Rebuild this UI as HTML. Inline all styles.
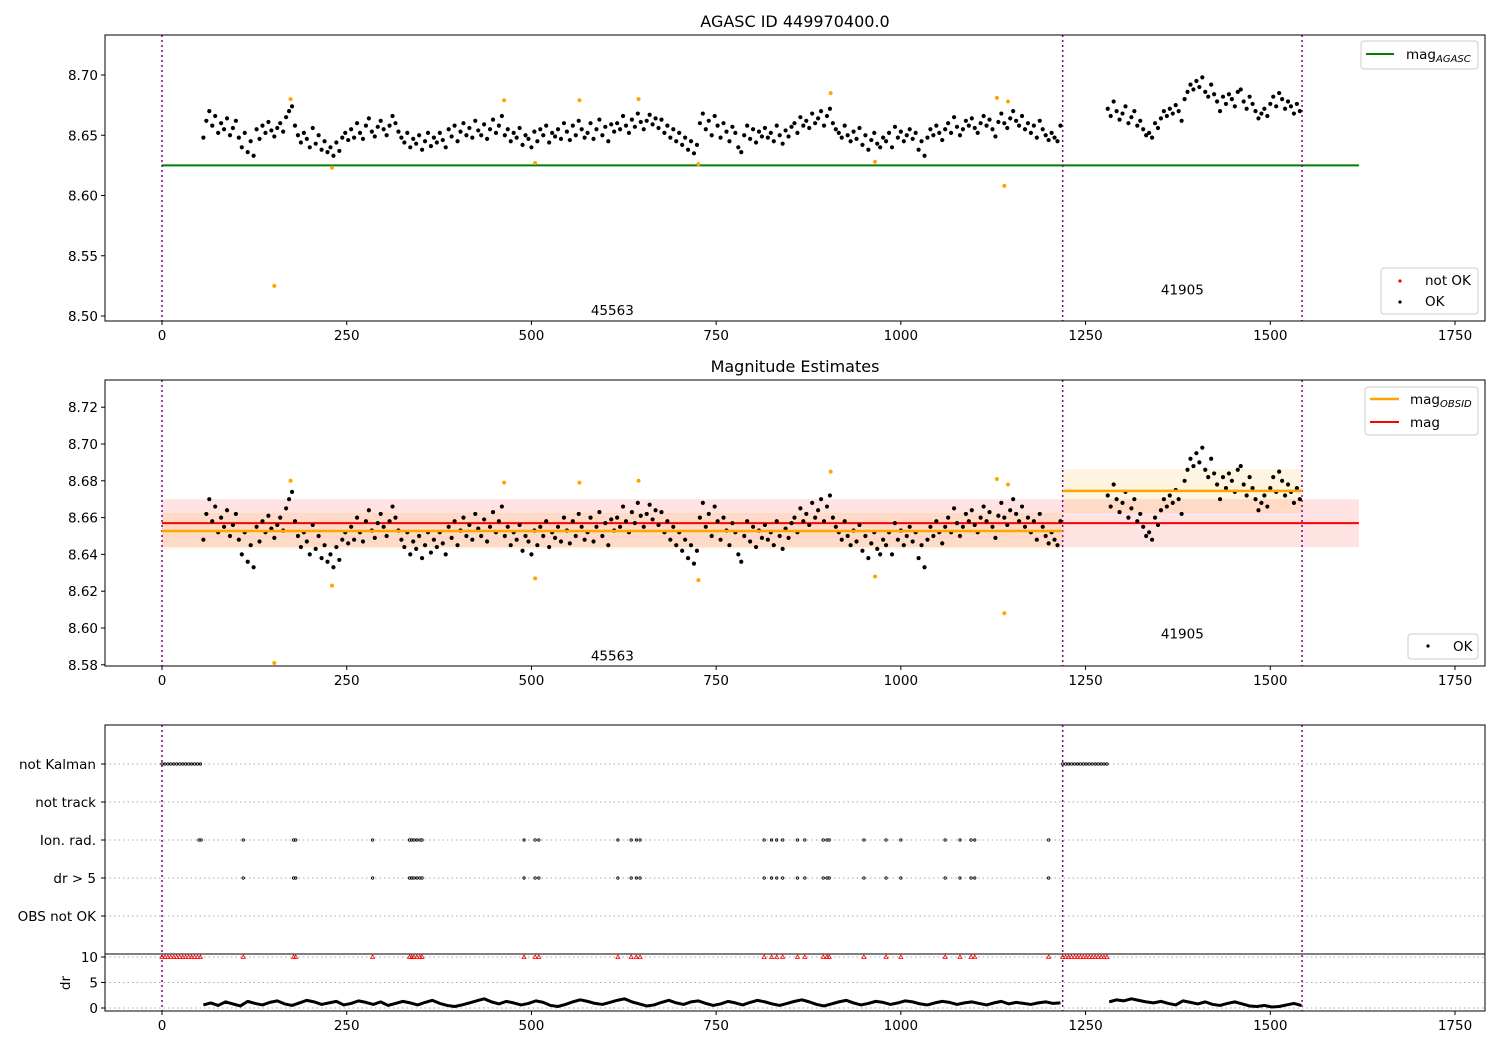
<!DOCTYPE html>
<html><head><meta charset="utf-8"><style>
body{margin:0;background:#fff}
svg{display:block;font-family:"DejaVu Sans","Liberation Sans",sans-serif}
</style></head><body>
<svg id="chart" width="1500" height="1050" viewBox="0 0 1500 1050" xmlns="http://www.w3.org/2000/svg"></svg>
<script>
// ---- data ----
const obs1Start = 56, obs1Step = 4;
const obs1MagMilli = [48,62,70,58,66,52,60,55,64,50, 56,62,48,40,52,36,45,33,55,47, 58,52,61,54,49,56,60,53,65,70,
 74,58,50,44,52,47,40,56,43,50, 38,45,36,40,33,44,37,48,52,46, 55,48,60,52,47,58,64,53,49,57,
 62,55,50,58,66,60,53,48,44,52, 40,47,43,50,38,45,52,41,48,44, 52,46,40,55,49,58,45,53,60,50,
 56,48,62,54,50,59,47,55,63,52, 58,66,50,55,45,52,48,56,42,50, 47,40,53,45,55,50,58,44,52,49,
 55,47,60,53,46,58,50,62,55,48, 52,60,47,55,63,50,57,45,59,53, 60,55,66,58,52,63,57,68,61,55,
 62,67,59,64,56,63,52,58,48,55, 45,52,42,48,38,45,35,42,60,68, 55,62,50,66,58,48,60,53,45,57,
 52,40,36,50,58,47,55,44,53,49, 56,48,52,45,58,50,43,54,49,57, 60,52,65,58,62,56,68,60,64,70,
 58,66,72,60,55,52,48,58,50,45, 53,47,56,42,50,38,46,52,43,40, 48,45,52,40,57,48,53,45,50,55,
 47,52,38,45,33,48,55,50,58,52, 46,55,60,52,65,57,50,55,62,58, 64,56,52,60,66,58,63,55,49,61,
 68,60,56,64,70,62,58,66,55,60, 52,58,48,62,55,50,46,52,48,45, 58];
const obs2Start = 1280, obs2Step = 4;
const obs2MagMilli = [72,66,78,70,63,68,74,60,65,70, 58,62,55,50,52,48,60,56,64,70, 66,72,68,75,70,62,80,86,92,88,
 95,90,98,86,82,92,84,78,70,82, 76,84,80,74,86,88,78,72,82,76, 70,64,68,72,66,76,82,74,85,80, 72,78,74,68,76,70];
const flaggedTimes = [174,230,152,463,505,565,645,726,905,965,1130,1140,1145];
const flaggedMags  = [8.680,8.623,8.525,8.679,8.627,8.679,8.680,8.626,8.685,8.628,8.681,8.608,8.678];
const magAgasc = 8.625;
const magAll = 8.657, magAllLo = 8.644, magAllHi = 8.670;
const obsidStarts = [0,1219], obsidEnds = [1219,1543];
const obsidMag = [8.6527,8.6745], obsidLo = [8.643,8.6625], obsidHi = [8.6625,8.6864];
const obsidLabels = ["45563","41905"];
const obsidLabelMag1 = [8.505,8.522], obsidLabelMag2 = [8.585,8.597];
const kalmanRuns = [[0,55],[1219,1280]];
const ionRadTimes = [50,53,110,178,181,285,335,338,341,345,349,352,490,505,510,617,635,642,647,815,825,832,840,860,870,895,900,903,950,980,1000,1060,1080,1095,1100,1200];
const dr5Times = [110,178,181,285,335,338,341,345,349,352,490,505,510,617,635,642,647,815,825,832,840,860,870,895,900,903,950,980,1000,1060,1080,1095,1100,1200];
const drStart1 = 56, drStart2 = 1282, drStep = 10;
const dr1 = [0.6,1.0,0.5,1.2,0.8,0.4,1.3,0.9,0.6,1.1, 1.4,0.8,0.5,1.0,1.5,1.2,0.7,1.0,1.3,0.6, 0.9,1.4,1.1,0.7,1.2,0.5,0.9,1.3,1.0,0.6,
 1.1,1.5,0.9,0.5,0.3,0.6,1.0,1.4,1.8,1.2, 0.8,1.3,1.0,0.6,0.9,1.4,1.1,0.5,0.3,0.7, 1.2,1.6,1.3,0.9,0.7,1.1,1.5,1.8,1.2,0.8,
 0.4,0.6,1.1,1.5,1.0,0.7,1.2,1.4,0.9,0.5, 0.8,1.3,1.0,0.6,1.1,1.5,1.2,0.8,0.5,0.9, 1.3,1.6,1.2,0.7,0.4,0.8,1.2,1.5,1.0,0.6,
 0.9,1.3,1.1,0.7,1.0,1.4,1.2,0.8,0.6,1.0, 1.3,1.1,0.7,1.0,1.2,0.9,0.6,1.0,1.3,0.8, 1.1,0.9,0.7,1.0,1.2,0.9,1.0];
const dr2 = [1.2,1.6,1.4,1.8,1.5,1.2,1.0,1.3,0.9,0.6, 1.4,1.1,0.8,1.2,0.7,0.5,0.9,1.2,0.8,0.4, 0.3,0.5,0.2,0.3,0.6,0.9,0.5];
const xTicks = [0,250,500,750,1000,1250,1500,1750];
const p1Ticks = [8.50,8.55,8.60,8.65,8.70];
const p2Ticks = [8.58,8.60,8.62,8.64,8.66,8.68,8.70,8.72];
const catLabels = ["not Kalman","not track","Ion. rad.","dr > 5","OBS not OK"];
const drTicks = [0,5,10];

// ---- axes ----
const NS="http://www.w3.org/2000/svg";
const svg=document.getElementById('chart');
function el(tag,attrs,parent){const e=document.createElementNS(NS,tag);for(const k in attrs)e.setAttribute(k,attrs[k]);(parent||svg).appendChild(e);return e;}
const X0=162, XS=(1455-162)/1750;
const xp=t=>X0+t*XS;
const y1=v=>75+(8.70-v)*1205;
const y2=v=>444+(8.70-v)*1840;
const ycat=i=>764+i*38;
const ydr=v=>1008-v*5.1;
const AX={l:105,r:1485};
const FS=13.5;

function frame(top,bot,name){
  const r=el('rect',{x:AX.l,y:top,width:AX.r-AX.l,height:bot-top,fill:'none',stroke:'#000','stroke-width':1});
  
  
}
function xAxis(bot,name){
  const g=el('g',{});
  
  
  xTicks.forEach(t=>{
    el('line',{x1:xp(t),x2:xp(t),y1:bot,y2:bot+4,stroke:'#000'},g);
    const tx=el('text',{x:xp(t),y:bot+19,'font-size':FS,'text-anchor':'middle'},g);tx.textContent=t;
  });
}
function yAxis(ticks,yf,fmt,name){
  const g=el('g',{});
  
  
  ticks.forEach(v=>{
    el('line',{x1:AX.l-4,x2:AX.l,y1:yf(v),y2:yf(v),stroke:'#000'},g);
    const tx=el('text',{x:AX.l-7,y:yf(v)+5,'font-size':FS,'text-anchor':'end'},g);tx.textContent=fmt(v);
  });
}
function vlines(top,bot,name){
  [0,1219,1543].forEach(t=>{
    const l=el('line',{x1:xp(t),x2:xp(t),y1:top,y2:bot,stroke:'purple','stroke-width':1.5,'stroke-dasharray':'2,3'});
    
    
  });
}
function dots(yf,r,fill,name){
  const g=el('g',{fill:fill});
  
  
  obs1MagMilli.forEach((m,i)=>el('circle',{cx:xp(obs1Start+i*obs1Step),cy:yf(8.6+m/1000),r:r},g));
  obs2MagMilli.forEach((m,i)=>el('circle',{cx:xp(obs2Start+i*obs2Step),cy:yf(8.6+m/1000),r:r},g));
}
function title(txt,y,name){
  const t=el('text',{x:795,y:y,'font-size':16,'text-anchor':'middle'});t.textContent=txt;
  
  
}

// ===== Panel 1 =====
title('AGASC ID 449970400.0',27,'top-title');
let cp=el('clipPath',{id:'c1'});el('rect',{x:AX.l,y:35,width:1380,height:286},cp);
let cp2=el('clipPath',{id:'c2'});el('rect',{x:AX.l,y:380,width:1380,height:286},cp2);
let l=el('line',{x1:xp(0),x2:xp(1620),y1:y1(magAgasc),y2:y1(magAgasc),stroke:'green','stroke-width':2});


vlines(35,321,'obsid-boundary');
dots(y1,2.1,'#000','ok-points-top');
let fg=el('g',{fill:'orange','clip-path':'url(#c1)'});


flaggedTimes.forEach((t,i)=>el('circle',{cx:xp(t),cy:y1(flaggedMags[i]),r:2},fg));
obsidLabels.forEach((s,i)=>{const t=el('text',{x:xp((obsidStarts[i]+obsidEnds[i])/2),y:y1(obsidLabelMag1[i])+5,'font-size':FS,'text-anchor':'middle'});t.textContent=s;
  
  });
frame(35,321,'top-axes');
xAxis(321,'top-x-axis');
yAxis(p1Ticks,y1,v=>v.toFixed(2),'top-y-axis');
// legends
let lg=el('g',{});


el('rect',{x:1361,y:41,width:117,height:28,rx:3,fill:'#fff',stroke:'#ccc'},lg);
el('line',{x1:1366,x2:1394,y1:54,y2:54,stroke:'green','stroke-width':2},lg);
let t=el('text',{x:1406,y:59,'font-size':FS},lg);t.innerHTML='mag<tspan font-size="10" font-style="italic" dy="3">AGASC</tspan>';
lg=el('g',{});


el('rect',{x:1381,y:268,width:97,height:46,rx:3,fill:'#fff',stroke:'#ccc'},lg);
el('circle',{cx:1400,cy:281,r:1.6,fill:'red'},lg);
el('circle',{cx:1400,cy:302,r:1.6,fill:'#000'},lg);
t=el('text',{x:1425,y:285,'font-size':FS},lg);t.textContent='not OK';
t=el('text',{x:1425,y:306,'font-size':FS},lg);t.textContent='OK';

// ===== Panel 2 =====
title('Magnitude Estimates',372,'middle-title');
let b=el('rect',{x:xp(0),y:y2(magAllHi),width:xp(1620)-xp(0),height:y2(magAllLo)-y2(magAllHi),fill:'red','fill-opacity':0.11});


obsidStarts.forEach((s,i)=>{
  const r=el('rect',{x:xp(s),y:y2(obsidHi[i]),width:xp(obsidEnds[i])-xp(s),height:y2(obsidLo[i])-y2(obsidHi[i]),fill:'orange','fill-opacity':0.12});
  
  
});
l=el('line',{x1:xp(0),x2:xp(1620),y1:y2(magAll),y2:y2(magAll),stroke:'red','stroke-width':2});


vlines(380,666,'obsid-boundary');
dots(y2,2.1,'#000','ok-points-middle');
obsidStarts.forEach((s,i)=>{
  const m=el('line',{x1:xp(s),x2:xp(obsidEnds[i]),y1:y2(obsidMag[i]),y2:y2(obsidMag[i]),stroke:'orange','stroke-width':2.5});
  
  
});
fg=el('g',{fill:'orange','clip-path':'url(#c2)'});


flaggedTimes.forEach((tt,i)=>el('circle',{cx:xp(tt),cy:Math.min(y2(flaggedMags[i]),663),r:2},fg));
obsidLabels.forEach((s,i)=>{const tx=el('text',{x:xp((obsidStarts[i]+obsidEnds[i])/2),y:y2(obsidLabelMag2[i])+5,'font-size':FS,'text-anchor':'middle'});tx.textContent=s;
  
  });
frame(380,666,'middle-axes');
xAxis(666,'middle-x-axis');
yAxis(p2Ticks,y2,v=>v.toFixed(2),'middle-y-axis');
lg=el('g',{});


el('rect',{x:1365,y:387,width:113,height:48,rx:3,fill:'#fff',stroke:'#ccc'},lg);
el('line',{x1:1370,x2:1399,y1:399,y2:399,stroke:'orange','stroke-width':2.5},lg);
el('line',{x1:1370,x2:1399,y1:422,y2:422,stroke:'red','stroke-width':2},lg);
t=el('text',{x:1410,y:404,'font-size':FS},lg);t.innerHTML='mag<tspan font-size="10" font-style="italic" dy="3">OBSID</tspan>';
t=el('text',{x:1410,y:427,'font-size':FS},lg);t.textContent='mag';
lg=el('g',{});


el('rect',{x:1408,y:634,width:70,height:25,rx:3,fill:'#fff',stroke:'#ccc'},lg);
el('circle',{cx:1428,cy:646,r:1.6,fill:'#000'},lg);
t=el('text',{x:1453,y:651,'font-size':FS},lg);t.textContent='OK';

// ===== Panel 3 =====
let gg=el('g',{stroke:'#aaa','stroke-dasharray':'1.5,3','stroke-width':1});


catLabels.forEach((c,i)=>el('line',{x1:AX.l,x2:AX.r,y1:ycat(i),y2:ycat(i)},gg));
drTicks.forEach(v=>el('line',{x1:AX.l,x2:AX.r,y1:ydr(v),y2:ydr(v)},gg));
vlines(725,1011,'obsid-boundary');
let kg=el('g',{fill:'none',stroke:'#000','stroke-width':0.8});


let rg=el('g',{fill:'none',stroke:'red','stroke-width':0.8});


function tri(cx,cy){el('path',{d:`M${cx-2},${cy+1.5}L${cx+2},${cy+1.5}L${cx},${cy-2}Z`},rg);}
kalmanRuns.forEach(([a,z])=>{for(let tt=a;tt<=z;tt+=4){el('circle',{cx:xp(tt),cy:ycat(0),r:1.2},kg);tri(xp(tt),ydr(10));}});
let ig=el('g',{fill:'none',stroke:'#000','stroke-width':0.8});


ionRadTimes.forEach(tt=>el('circle',{cx:xp(tt),cy:ycat(2),r:1.2},ig));
let dg=el('g',{fill:'none',stroke:'#000','stroke-width':0.8});


dr5Times.forEach(tt=>{el('circle',{cx:xp(tt),cy:ycat(3),r:1.2},dg);tri(xp(tt),ydr(10));});
function drLine(arr,start,name){
  const p=el('polyline',{points:arr.map((v,i)=>xp(start+i*drStep)+','+ydr(v)).join(' '),fill:'none',stroke:'#000','stroke-width':3,'stroke-linejoin':'round'});
  
  
}
drLine(dr1,drStart1,'dr-line-obs1');
drLine(dr2,drStart2,'dr-line-obs2');
frame(725,1011,'flags-axes');
l=el('line',{x1:AX.l,x2:AX.r,y1:954,y2:954,stroke:'#000'});


xAxis(1011,'bottom-x-axis');
let cy=el('g',{});


catLabels.forEach((c,i)=>{el('line',{x1:AX.l-4,x2:AX.l,y1:ycat(i),y2:ycat(i),stroke:'#000'},cy);
  const tx=el('text',{x:AX.l-9,y:ycat(i)+5,'font-size':FS,'text-anchor':'end'},cy);tx.textContent=c;});
yAxis(drTicks,ydr,v=>String(v),'dr-y-axis');
t=el('text',{x:0,y:0,'font-size':FS,'text-anchor':'middle',transform:'translate(70,983) rotate(-90)'});t.textContent='dr';


</script>
</body></html>
